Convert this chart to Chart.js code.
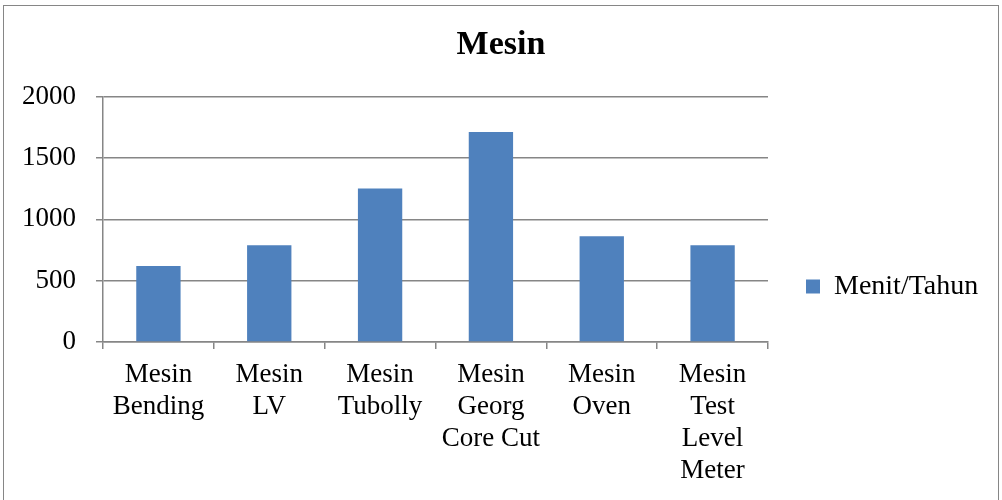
<!DOCTYPE html>
<html>
<head>
<meta charset="utf-8">
<script src="https://cdn.jsdelivr.net/npm/chart.js@4.4.1/dist/chart.umd.min.js"></script>
<style>
  html, body { margin: 0; padding: 0; background: #fff; overflow: hidden; }
  canvas { display: block; }
</style>
</head>
<body>
<canvas id="barChart" width="1002" height="573"></canvas>
<script>
const mesinLabels = [
  ['Mesin', 'Bending'],
  ['Mesin', 'LV'],
  ['Mesin', 'Tubolly'],
  ['Mesin', 'Georg', 'Core Cut'],
  ['Mesin', 'Oven'],
  ['Mesin', 'Test', 'Level', 'Meter']
];
const menitPerTahun = [620, 790, 1252, 1712, 863, 790];
const yTicks = [0, 500, 1000, 1500, 2000];

const fontFamily = '"Liberation Serif", "Times New Roman", serif';
const gridColor = '#868686';

// frame around the whole chart, like the Excel chart border
const chartFrame = {
  id: 'chartFrame',
  beforeDraw(chart) {
    const c = chart.ctx;
    c.save();
    c.fillStyle = '#fff';
    c.fillRect(0, 0, chart.width, chart.height);
    c.strokeStyle = gridColor;
    c.lineWidth = 1;
    c.strokeRect(3.5, 5.5, 995, 620);
    c.restore();
  }
};

// keep the legend a fixed width so the plot ends where it does in the picture
const legendWidth = {
  id: 'legendWidth',
  beforeInit(chart) {
    const fit = chart.legend.fit;
    chart.legend.fit = function () {
      fit.bind(chart.legend)();
      this.width = 234;
    };
  }
};

const ctxBar = document.getElementById('barChart').getContext('2d');
const barChart = new Chart(ctxBar, {
  type: 'bar',
  data: {
    labels: mesinLabels,
    datasets: [{
      label: 'Menit/Tahun',
      data: menitPerTahun,
      backgroundColor: '#4F81BD',
      barPercentage: 0.4,
      categoryPercentage: 1.0
    }]
  },
  options: {
    responsive: false,
    animation: false,
    devicePixelRatio: 1,
    layout: { padding: 0 },
    plugins: {
      title: {
        display: true,
        text: 'Mesin',
        color: '#000',
        font: { family: fontFamily, size: 34, weight: 'bold', lineHeight: 1.2 },
        padding: { top: 25, bottom: 31 }
      },
      legend: {
        display: true,
        position: 'right',
        labels: {
          color: '#000',
          font: { family: fontFamily, size: 28 },
          boxWidth: 14,
          boxHeight: 14,
          padding: 38
        }
      },
      tooltip: { enabled: false }
    },
    scales: {
      x: {
        grid: {
          display: true,
          drawOnChartArea: false,
          color: gridColor,
          lineWidth: 1.5,
          tickLength: 7
        },
        border: { display: true, color: gridColor, width: 1.5 },
        ticks: {
          color: '#000',
          font: { family: fontFamily, size: 27, lineHeight: 1.185 },
          padding: 10,
          maxRotation: 0,
          autoSkip: false
        },
        afterFit(scale) {
          scale.height = 231;
        }
      },
      y: {
        min: 0,
        max: 2000,
        afterBuildTicks(scale) {
          scale.ticks = yTicks.map(v => ({ value: v }));
        },
        grid: {
          color: gridColor,
          lineWidth: 1.5,
          tickLength: 7
        },
        border: { display: true, color: gridColor, width: 1.5 },
        ticks: {
          color: '#000',
          font: { family: fontFamily, size: 27 },
          padding: 20,
          callback: v => String(v)
        },
        afterFit(scale) {
          scale.width = 103;
        }
      }
    }
  },
  plugins: [chartFrame, legendWidth]
});
</script>
</body>
</html>
